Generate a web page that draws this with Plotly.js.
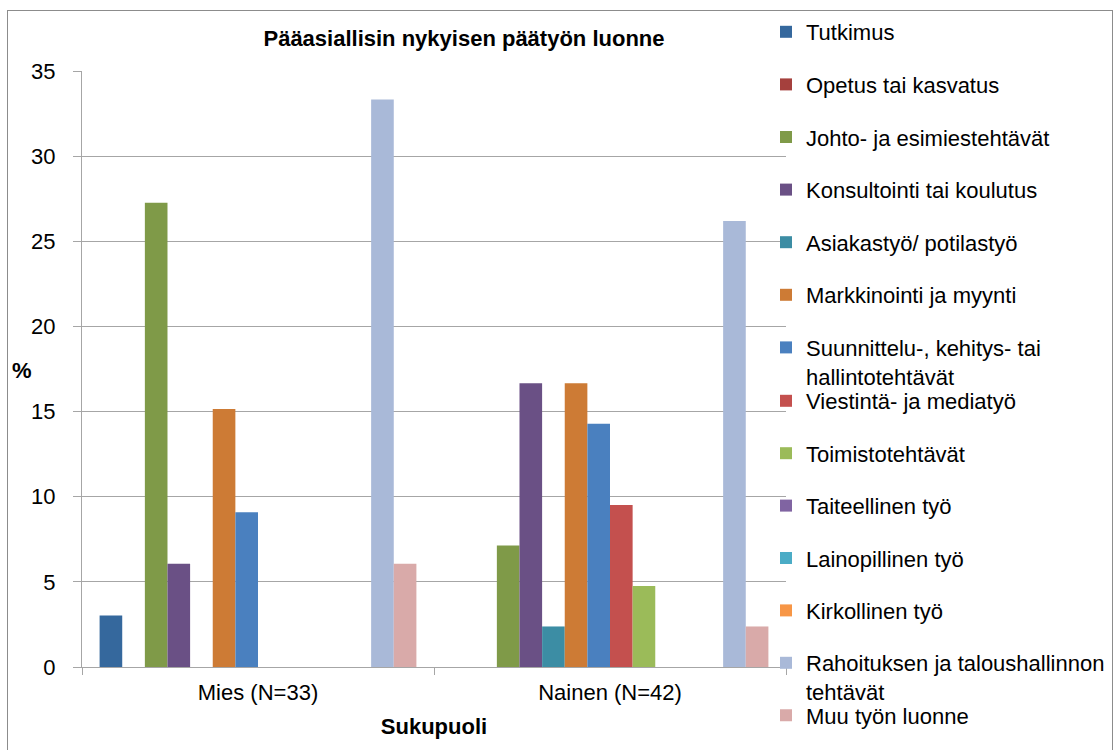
<!DOCTYPE html>
<html>
<head>
<meta charset="utf-8">
<script src="https://cdn.plot.ly/plotly-3.0.1.min.js"></script>
<style>
  html, body { margin: 0; padding: 0; background: #ffffff; }
  #wrap { position: relative; width: 1116px; height: 750px; overflow: hidden; }
  #chart { width: 1116px; height: 750px; }
  #frame { position: absolute; left: 7px; top: 10px; width: 1104px; height: 760px;
           border: 1px solid #8c8c8c; pointer-events: none; }
</style>
</head>
<body>
<div id="wrap">
  <div id="chart"></div>
  <div id="frame"></div>
</div>
<script>
// ---- data ----
var categories = ['Mies (N=33)', 'Nainen (N=42)'];
var seriesNames = [
  'Tutkimus',
  'Opetus tai kasvatus',
  'Johto- ja esimiestehtävät',
  'Konsultointi tai koulutus',
  'Asiakastyö/ potilastyö',
  'Markkinointi ja myynti',
  'Suunnittelu-, kehitys- tai<br>hallintotehtävät',
  'Viestintä- ja mediatyö',
  'Toimistotehtävät',
  'Taiteellinen työ',
  'Lainopillinen työ',
  'Kirkollinen työ',
  'Rahoituksen ja taloushallinnon<br>tehtävät',
  'Muu työn luonne'
];
var miesValues =   [3.03, 0, 27.27, 6.06, 0,    15.15, 9.09,  0,    0,    0, 0, 0, 33.33, 6.06];
var nainenValues = [0,    0, 7.14,  16.67, 2.38, 16.67, 14.29, 9.52, 4.76, 0, 0, 0, 26.19, 2.38];
var yTicks = [0, 5, 10, 15, 20, 25, 30, 35];

// ---- styles ----
var seriesColors = ['#35689D', '#A5403D', '#7F9A48', '#6A5085', '#3C8DA4', '#CD7B35', '#4A80BF',
                    '#C4504E', '#9BBB59', '#8064A2', '#4BACC6', '#F79646', '#A9B9D8', '#D9AAA9'];
var legendOf = function (i) { return i <= 6 ? 'legend' : (i <= 12 ? 'legend2' : 'legend3'); };

var FONT = 'Liberation Sans, Arial, sans-serif';
var traces = seriesNames.map(function (name, i) {
  return {
    type: 'bar',
    name: name,
    x: categories,
    y: [miesValues[i], nainenValues[i]],
    marker: { color: seriesColors[i], line: { width: 0 } },
    legend: legendOf(i),
    legendgroup: 'g' + i,
    hoverinfo: 'name+y'
  };
});

function legendCfg(topPx, gap) {
  return {
    xref: 'container', yref: 'container',
    x: 766 / 1116, xanchor: 'left',
    y: 1 - topPx / 750, yanchor: 'top',
    maxheight: 1,
    bgcolor: 'rgba(0,0,0,0)', borderwidth: 0,
    font: { family: FONT, size: 22, color: '#000000' },
    traceorder: 'grouped', tracegroupgap: gap, valign: 'top'
  };
}

var layout = {
  width: 1116, height: 750,
  margin: { l: 82, r: 330, t: 71, b: 83, pad: 0, autoexpand: false },
  paper_bgcolor: '#ffffff', plot_bgcolor: '#ffffff',
  font: { family: FONT, size: 22, color: '#000000' },
  barmode: 'group', bargap: 0.1, bargroupgap: 0,
  showlegend: true,
  title: {
    text: '<b>Pääasiallisin nykyisen päätyön luonne</b>',
    xref: 'container', yref: 'container',
    x: 464 / 1116, xanchor: 'center', y: 1 - 38 / 750, yanchor: 'middle',
    font: { family: FONT, size: 22, color: '#000000' }
  },
  xaxis: {
    type: 'category', automargin: false,
    showgrid: false, showline: true, linecolor: '#A6A6A6', linewidth: 1,
    ticks: 'outside', tickson: 'boundaries', ticklen: 7, tickcolor: '#A6A6A6',
    tickfont: { family: FONT, size: 22, color: '#000000' },
    ticklabelstandoff: 6,
    title: { text: '<b>Sukupuoli</b>', standoff: 14, font: { family: FONT, size: 22, color: '#000000' } },
    fixedrange: true
  },
  yaxis: {
    range: [0, 35], tickvals: yTicks, automargin: false,
    showgrid: true, gridcolor: '#A6A6A6', gridwidth: 1,
    zeroline: false, showline: true, linecolor: '#A6A6A6', linewidth: 1,
    ticks: 'outside', ticklen: 8, tickcolor: '#A6A6A6',
    tickfont: { family: FONT, size: 22, color: '#000000' },
    ticklabelstandoff: 13,
    fixedrange: true
  },
  legend: legendCfg(11, 21),
  legend2: legendCfg(380, 20.8),
  legend3: legendCfg(694.5, 0),
  annotations: [{
    text: '<b>%</b>', xref: 'paper', yref: 'paper',
    x: (22 - 82) / 704, y: (667 - 370) / 596, xanchor: 'center', yanchor: 'middle',
    showarrow: false, font: { family: FONT, size: 22, color: '#000000' }
  }]
};

Plotly.newPlot('chart', traces, layout, { displayModeBar: false, staticPlot: false });
</script>
</body>
</html>
